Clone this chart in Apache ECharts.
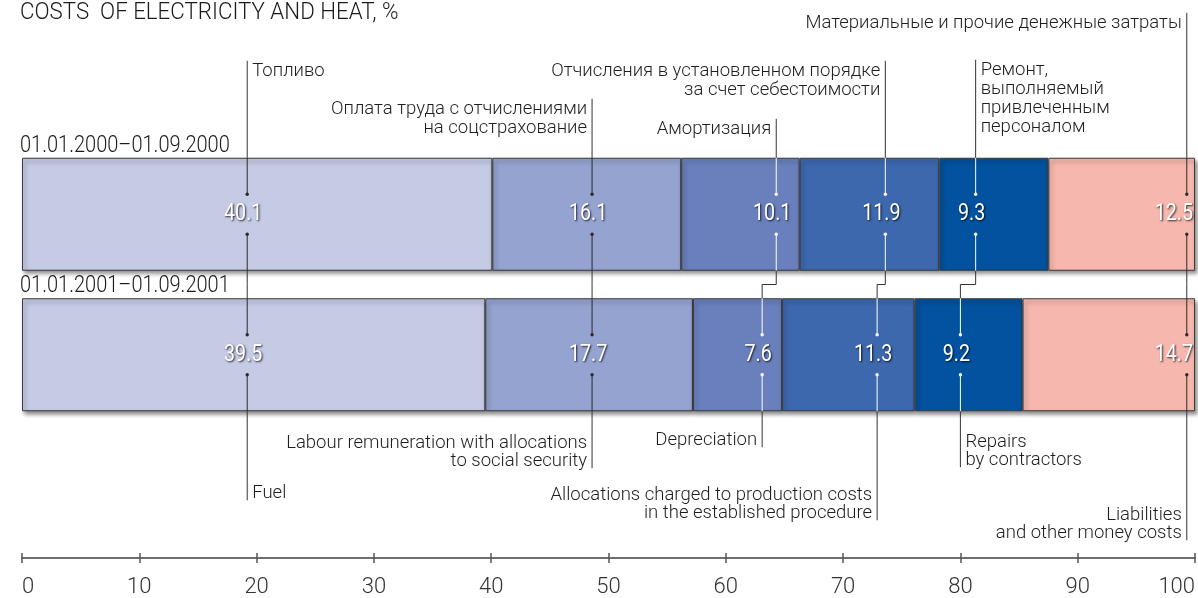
<!DOCTYPE html>
<html>
<head>
<meta charset="utf-8">
<script src="https://cdn.jsdelivr.net/npm/echarts@6/dist/echarts.min.js"></script>
<style>
  html, body { margin: 0; padding: 0; background: #fff; }
  #chart { width: 1198px; height: 598px; }
</style>
</head>
<body>
<div id="chart"></div>
<script>
// one bar per period, top to bottom
const periods = ['01.01.2000–01.09.2000', '01.01.2001–01.09.2001']
const itemsRu = [
  'Топливо',
  'Оплата труда с отчислениями\nна соцстрахование',
  'Амортизация',
  'Отчисления в установленном порядке\nза счет себестоимости',
  'Ремонт,\nвыполняемый\nпривлеченным\nперсоналом',
  'Материальные и прочие денежные затраты'
]
const itemsEn = [
  'Fuel',
  'Labour remuneration with allocations\nto social security',
  'Depreciation',
  'Allocations charged to production costs\nin the established procedure',
  'Repairs\nby contractors',
  'Liabilities\nand other money costs'
]
const share2000 = [40.1, 16.1, 10.1, 11.9, 9.3, 12.5]
const share2001 = [39.5, 17.7, 7.6, 11.3, 9.2, 14.7]

// where the leader lines cross each bar (axis units)
const leader2000 = [19.2, 48.6, 64.3, 73.6, 81.3, 99.3]
const leader2001 = [19.2, 48.6, 63.1, 72.9, 80.0, 99.3]

const colors = ['#c5cae5', '#95a3d0', '#6a80bd', '#3d68ae', '#02529f', '#f6b8ae']
const darkFill = [false, false, true, true, true, false]
const noteAlign = ['left', 'right', 'right', 'right', 'left', 'right']
const riseAbove = [97, 59, 39, 97, 98, 145] // px above the top bar
const dropBelow = [89, 57, 36, 109, 56, 129] // px below the lower bar

const FONT = "Roboto, 'Liberation Sans', sans-serif"
const BAR_W = 113
const LINE = '#333'

const shares = [share2000, share2001]
const leaders = [leader2000, leader2001]

function renderLeader (params, api) {
  const row = api.value(1)
  const k = api.value(2)
  const pt = api.coord([api.value(0), row])
  const x = pt[0]
  const yc = pt[1]
  const top = yc - BAR_W / 2
  const bottom = yc + BAR_W / 2
  const gap = api.size([0, 1])[1] - BAR_W
  const inner = darkFill[k] ? '#ffffff' : '#2a2a2a'
  const kids = []
  const line = (x1, y1, x2, y2, c) => kids.push({
    type: 'line',
    shape: { x1, y1, x2, y2 },
    style: { stroke: c, lineWidth: 1 }
  })
  line(x, top, x, yc - 20, inner)
  line(x, yc + 20, x, bottom, inner)
  kids.push({ type: 'circle', shape: { cx: x, cy: yc - 20, r: 1.7 }, style: { fill: inner } })
  kids.push({ type: 'circle', shape: { cx: x, cy: yc + 20, r: 1.7 }, style: { fill: inner } })

  // value label, narrowed to look like the condensed face of the original
  const last = k === colors.length - 1
  const endX = api.coord([100, row])[0]
  kids.push({
    type: 'text',
    x: last ? endX - 2 : x - 4,
    y: yc,
    scaleX: 0.82,
    style: {
      text: String(shares[row][k]),
      fill: '#fff',
      font: '24px ' + FONT,
      align: last ? 'right' : 'center',
      verticalAlign: 'middle',
      textShadowColor: 'rgba(0,0,0,0.8)',
      textShadowBlur: 2,
      textShadowOffsetX: 1,
      textShadowOffsetY: 1
    }
  })

  const dx = noteAlign[k] === 'left' ? 5 : -5
  if (row === 0) {
    const yTop = top - riseAbove[k]
    line(x, yTop, x, top, LINE)
    kids.push({
      type: 'text',
      x: x + dx,
      y: yTop + 1,
      style: {
        text: itemsRu[k],
        fill: '#1e1e1e',
        font: '300 18.5px ' + FONT,
        lineHeight: 19,
        align: noteAlign[k],
        verticalAlign: 'top'
      }
    })
    // connector through the gap to the lower bar
    const x2 = api.coord([leaders[1][k], 1])[0]
    const mid = bottom + gap / 2
    line(x, bottom, x, mid, LINE)
    line(x, mid, x2, mid, LINE)
    line(x2, mid, x2, bottom + gap, LINE)
  } else {
    const yBot = bottom + dropBelow[k]
    line(x, bottom, x, yBot, LINE)
    kids.push({
      type: 'text',
      x: x + dx,
      y: yBot + 2,
      style: {
        text: itemsEn[k],
        fill: '#1e1e1e',
        font: '300 18.5px ' + FONT,
        lineHeight: 18,
        align: noteAlign[k],
        verticalAlign: 'bottom'
      }
    })
  }

  if (k === 0) {
    kids.push({
      type: 'text',
      x: api.coord([0, row])[0] - 2,
      y: top - 12,
      scaleX: 0.87,
      style: {
        text: periods[row],
        fill: '#1a1a1a',
        font: '300 23px ' + FONT,
        align: 'left',
        verticalAlign: 'middle'
      }
    })
  }
  return { type: 'group', children: kids }
}

const leaderData = []
leaders.forEach((arr, row) => arr.forEach((v, k) => leaderData.push([v, row, k])))

const barSeries = colors.map((c, k) => ({
  name: itemsEn[k],
  type: 'bar',
  stack: 'total',
  barWidth: BAR_W,
  silent: true,
  data: shares.map(s => s[k]),
  itemStyle: {
    color: c,
    borderColor: '#3a3a3a',
    borderWidth: 1,
    shadowBlur: 4,
    shadowColor: 'rgba(0,0,0,0.45)',
    shadowOffsetX: 2,
    shadowOffsetY: 3
  }
}))

const axisBase = {
  type: 'value',
  min: 0,
  max: 100,
  interval: 10,
  position: 'bottom',
  offset: 133,
  splitLine: { show: false }
}

const chart = echarts.init(document.getElementById('chart'), null, { renderer: 'canvas' })
chart.setOption({
  animation: false,
  graphic: [{
    type: 'text',
    x: 20,
    y: 2,
    scaleX: 0.97,
    style: {
      text: 'COSTS  OF ELECTRICITY AND HEAT, %',
      font: '300 23px ' + FONT,
      fill: '#1a1a1a'
    }
  }],
  grid: { left: 22, right: 3, top: 144, bottom: 173 },
  xAxis: [
    Object.assign({}, axisBase, {
      axisLine: { show: true, lineStyle: { color: '#6e6e6e', width: 2 } },
      axisTick: { show: true, length: 5, lineStyle: { color: '#555', width: 1.5 } },
      axisLabel: {
        fontSize: 22,
        fontWeight: 300,
        color: '#333',
        margin: 18,
        fontFamily: FONT,
        alignMinLabel: 'left',
        alignMaxLabel: 'right'
      }
    }),
    Object.assign({}, axisBase, {
      axisLine: { show: false },
      axisTick: { show: true, inside: true, length: 5, lineStyle: { color: '#555', width: 1.5 } },
      axisLabel: { show: false }
    })
  ],
  yAxis: {
    type: 'category',
    data: periods,
    inverse: true,
    axisLine: { show: false },
    axisTick: { show: false },
    axisLabel: { show: false }
  },
  series: barSeries.concat([{
    type: 'custom',
    renderItem: renderLeader,
    clip: false,
    silent: true,
    z: 10,
    encode: { x: 0, y: 1 },
    data: leaderData
  }])
})
</script>
</body>
</html>
